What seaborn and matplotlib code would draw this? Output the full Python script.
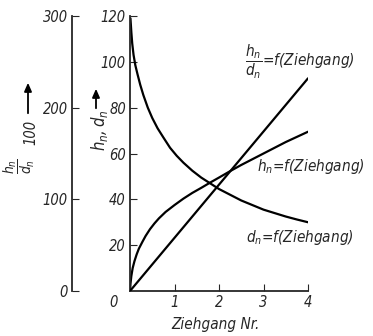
import matplotlib
matplotlib.use("Agg")
import matplotlib.pyplot as plt
from matplotlib.patches import FancyArrowPatch
import seaborn as sns
import pandas as pd

# Drawing pass number (Ziehgang) and measured quantities
d_pass = [0.01, 0.03, 0.05, 0.08, 0.12, 0.17, 0.23, 0.3, 0.4, 0.5, 0.62, 0.75, 0.9,
          1.05, 1.2, 1.4, 1.6, 1.8, 2.0, 2.25, 2.5, 2.75, 3.0, 3.25, 3.5, 3.75, 4.0]
d_vals = [119, 113, 108, 103, 98.5, 94.5, 90, 85.5, 80, 75.5, 71, 67, 62.5,
          59, 56, 52.5, 49.5, 47, 44.5, 42, 39.5, 37.5, 35.5, 34, 32.5, 31.2, 30]

h_pass = [0, 0.01, 0.03, 0.06, 0.1, 0.15, 0.2, 0.28, 0.35, 0.45, 0.55, 0.65, 0.8,
          1.0, 1.2, 1.4, 1.6, 1.8, 2.0, 2.25, 2.5, 2.75, 3.0, 3.5, 4.0]
h_vals = [0, 3, 6.5, 10, 13, 16, 18.5, 21.5, 24, 27, 29.5, 31.7, 34.5,
          37.5, 40.3, 42.8, 45, 47.3, 49.5, 52.3, 55, 57.5, 60, 65, 69.5]

ratio_pass = [0, 1, 2, 3, 4]
ratio_vals = [0, 58, 116, 174, 232]   # 100 * h_n / d_n

x_ticks = [0, 1, 2, 3, 4]
x_tick_labels = ["", "1", "2", "3", "4"]
y_ticks = [20, 40, 60, 80, 100, 120]
y2_ticks = [0, 100, 200, 300]

sns.set_style("ticks")
plt.rcParams["font.family"] = ["DejaVu Sans"]
plt.rcParams["font.style"] = "italic"
plt.rcParams["font.stretch"] = "condensed"
plt.rcParams["mathtext.fontset"] = "custom"
plt.rcParams["mathtext.it"] = "DejaVu Sans:style=italic:stretch=condensed"
plt.rcParams["mathtext.rm"] = "DejaVu Sans:style=italic:stretch=condensed"

W, H = 373, 336
fig = plt.figure(figsize=(W / 100, H / 100), dpi=100)
L, R, T, B = 130, 308, 16, 291
ax = fig.add_axes([L / W, 1 - B / H, (R - L) / W, (B - T) / H])

df_d = pd.DataFrame({"pass": d_pass, "val": d_vals})
df_h = pd.DataFrame({"pass": h_pass, "val": h_vals})
df_r = pd.DataFrame({"pass": ratio_pass, "val": ratio_vals})

lw = 1.6
sns.lineplot(data=df_d, x="pass", y="val", ax=ax, color="black", lw=lw,
             sort=False, estimator=None)
sns.lineplot(data=df_h, x="pass", y="val", ax=ax, color="black", lw=lw,
             sort=False, estimator=None)

ax.set_xlim(0, 4)
ax.set_ylim(0, 120)
ax.set_xticks(x_ticks)
ax.set_xticklabels(x_tick_labels)
ax.set_yticks(y_ticks)
ax.set_xlabel("")
ax.set_ylabel("")
for s in ("top", "right"):
    ax.spines[s].set_visible(False)
for s in ("left", "bottom"):
    ax.spines[s].set_linewidth(1.3)
ax.tick_params(direction="in", length=5, width=0.8, labelsize=10.5, pad=3)

# second scale for 100*h/d on the far left
ax2 = ax.twinx()
sns.lineplot(data=df_r, x="pass", y="val", ax=ax2, color="black", lw=lw,
             sort=False, estimator=None)
ax2.set_ylim(0, 300)
ax2.set_xlim(0, 4)
ax2.set_yticks(y2_ticks)
ax2.set_ylabel("")
ax2.yaxis.tick_left()
ax2.yaxis.set_label_position("left")
for s in ("top", "right", "bottom"):
    ax2.spines[s].set_visible(False)
ax2.spines["left"].set_visible(True)
ax2.spines["left"].set_position(("axes", (72 - L) / (R - L)))
ax2.spines["left"].set_linewidth(1.3)
ax2.tick_params(axis="y", direction="in", length=5, width=0.8, labelsize=10.5, pad=3)

# origin label
ax.annotate("0", xy=(0, 0), xytext=(-12, -8.5), textcoords="offset points",
            fontsize=10.5, ha="center", va="center")

fs = 11
ax.text(2.58, 100, r"$\dfrac{h_n}{d_n}$=f(Ziehgang)", fontsize=fs, ha="left", va="center")
ax.text(2.85, 54.5, r"$h_n$=f(Ziehgang)", fontsize=fs, ha="left", va="center")
ax.text(2.6, 23.5, r"$d_n$=f(Ziehgang)", fontsize=fs, ha="left", va="center")

fig.text(215 / W, 1 - 325 / H, "Ziehgang Nr.", fontsize=fs, ha="center", va="center")

# axis titles with arrows
fig.text(100 / W, 1 - 130 / H, r"$h_n, d_n$", fontsize=fs + 1, rotation=90, ha="center", va="center")
fig.text(19 / W, 1 - 166 / H, r"$\dfrac{h_n}{d_n}$", fontsize=10, rotation=90,
         ha="center", va="center")
fig.text(31 / W, 1 - 132 / H, "100", fontsize=10.5, rotation=90, ha="center", va="center")
fig.add_artist(FancyArrowPatch(
    (96 / W, 1 - 111 / H), (96 / W, 1 - 86 / H), transform=fig.transFigure,
    arrowstyle="-|>,head_length=5,head_width=2.2", color="black", lw=1.3))
fig.add_artist(FancyArrowPatch(
    (28 / W, 1 - 116 / H), (28 / W, 1 - 80 / H), transform=fig.transFigure,
    arrowstyle="-|>,head_length=5,head_width=2.2", color="black", lw=1.3))

fig.savefig("out.png", dpi=100)
